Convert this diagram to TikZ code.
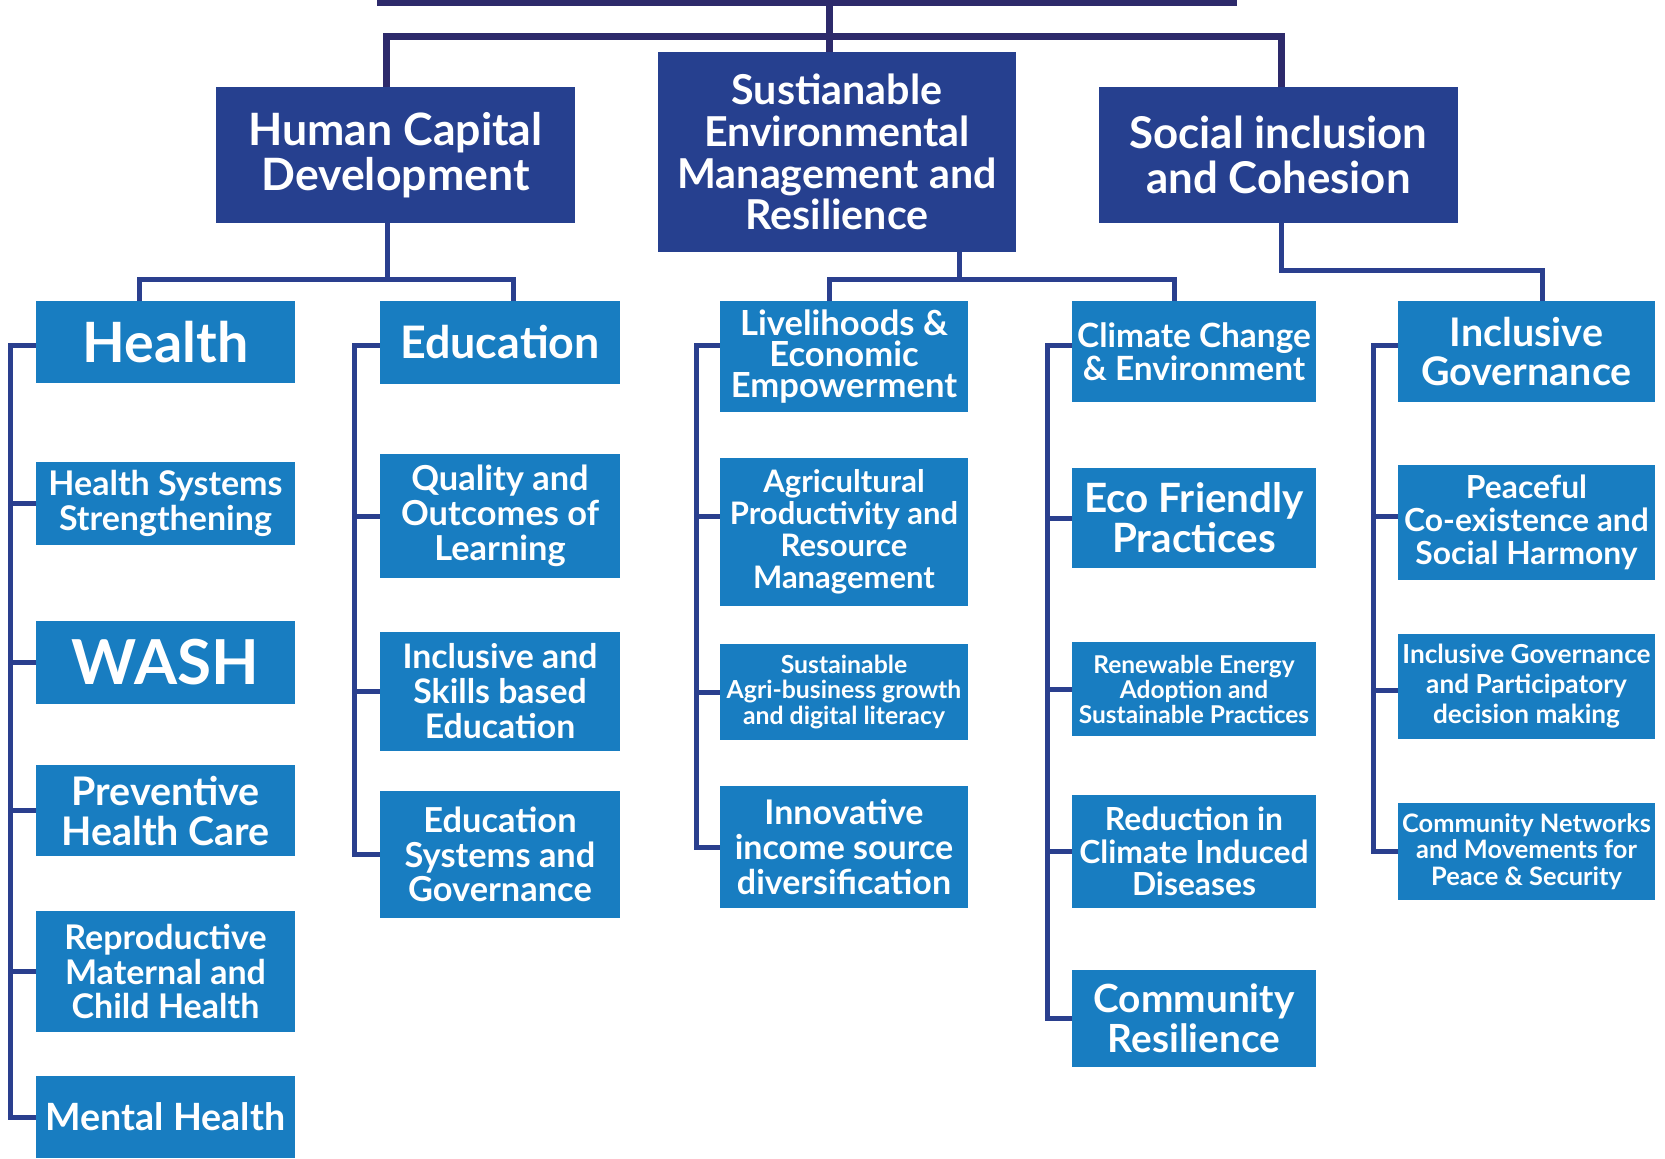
\documentclass[tikz,border=0pt]{standalone}
\usepackage{fontspec}
\setmainfont{Lato}
\definecolor{mainblue}{RGB}{38,64,143}
\definecolor{subblue}{RGB}{24,125,193}
\definecolor{busnavy}{RGB}{45,42,107}
\definecolor{linkblue}{RGB}{42,63,142}
\tikzset{
  mainbox/.style={fill=mainblue, text=white, align=center, inner sep=0pt},
  subbox/.style={fill=subblue, text=white, align=center, inner sep=0pt},
  fsz/.style 2 args={font=\bfseries\fontsize{#1pt}{#2pt}\selectfont},
  bus/.style={draw=busnavy, line width=3.5pt},
  link/.style={draw=linkblue, line width=2.5pt}
}
\begin{document}
\begin{tikzpicture}[x=0.5pt,y=-0.5pt]
\useasboundingbox (0,0) rectangle (1665,1158);

% top bar
\fill[busnavy] (377,0) rectangle (1237,6);
\coordinate (bar) at (829,3);

% pillars
\node[mainbox, fsz={22.3}{22.5}, minimum width=179.5pt, minimum height=68pt] (hcd) at (395.5,155) {Human Capital\\Development};
\node[mainbox, fsz={20.6}{20.9}, minimum width=179pt, minimum height=100pt] (semr) at (837,152) {Sustianable\\Environmental\\Management and\\Resilience};
\node[mainbox, fsz={21.9}{22.3}, minimum width=179.5pt, minimum height=68pt] (sic) at (1278.5,155) {Social inclusion\\and Cohesion};

% health column
\node[subbox, fsz={27.8}{30}, minimum width=129.5pt, minimum height=41pt] (health) at (165.5,342) {Health};
\node[subbox, fsz={17}{17.5}, minimum width=129.5pt, minimum height=41.5pt] (hss) at (165.5,503.5) {Health Systems\\Strengthening};
\node[subbox, fsz={31}{33}, minimum width=129.5pt, minimum height=41.5pt] (wash) at (165.5,662.5) {WASH};
\node[subbox, fsz={19.7}{20}, minimum width=129.5pt, minimum height=45.5pt] (phc) at (165.5,810.5) {Preventive\\Health Care};
\node[subbox, fsz={17}{17.3}, minimum width=129.5pt, minimum height=60.5pt] (rmch) at (165.5,971.5) {Reproductive\\Maternal and\\Child Health};
\node[subbox, fsz={18.8}{20}, minimum width=129.5pt, minimum height=41pt] (mh) at (165.5,1117) {Mental Health};

% education column
\node[subbox, fsz={22.4}{23}, minimum width=120pt, minimum height=41.5pt] (edu) at (500,342.5) {Education};
\node[subbox, fsz={17.2}{17.5}, minimum width=120pt, minimum height=62pt] (qol) at (500,516) {Quality and\\Outcomes of\\Learning};
\node[subbox, fsz={16.9}{17.5}, minimum width=120pt, minimum height=59.5pt] (isbe) at (500,691.5) {Inclusive and\\Skills based\\Education};
\node[subbox, fsz={17.2}{17.3}, minimum width=120pt, minimum height=63.5pt] (esg) at (500,854.5) {Education\\Systems and\\Governance};

% livelihoods column
\node[subbox, fsz={17.3}{15.6}, minimum width=124pt, minimum height=55.5pt] (lee) at (844,356.5) {Livelihoods \&\\Economic\\Empowerment};
\node[subbox, fsz={15.5}{16}, minimum width=124pt, minimum height=74pt] (alprm) at (844,532) {Agricultural\\Productivity and\\Resource\\Management};
\node[subbox, fsz={12.4}{12.8}, minimum width=124pt, minimum height=48pt] (sab) at (844,692) {Sustainable\\Agri-business growth\\and digital literacy};
\node[subbox, fsz={17}{17.3}, minimum width=124pt, minimum height=61pt] (iisd) at (844,847) {Innovative\\income source\\diversification};

% climate column
\node[subbox, fsz={16.7}{16.5}, minimum width=122pt, minimum height=50.5pt] (cce) at (1194,351.5) {Climate Change\\\& Environment};
\node[subbox, fsz={20.2}{20}, minimum width=122pt, minimum height=50pt] (efp) at (1194,518) {Eco Friendly\\Practices};
\node[subbox, fsz={12.25}{12.5}, minimum width=122pt, minimum height=47pt] (rea) at (1194,689) {Renewable Energy\\Adoption and\\Sustainable Practices};
\node[subbox, fsz={15.9}{16.2}, minimum width=122pt, minimum height=56.5pt] (rcid) at (1194,851.5) {Reduction in\\Climate Induced\\Diseases};
\node[subbox, fsz={19.4}{20}, minimum width=122pt, minimum height=48.5pt] (cr) at (1194,1018.5) {Community\\Resilience};

% governance column
\node[subbox, fsz={19.7}{19.5}, minimum width=128.5pt, minimum height=50.5pt] (ig) at (1526.5,351.5) {Inclusive\\Governance};
\node[subbox, fsz={15.9}{16.5}, minimum width=128.5pt, minimum height=57.5pt] (pcsh) at (1526.5,522.5) {Peaceful\\Co-existence and\\Social Harmony};
\node[subbox, fsz={13.1}{15}, minimum width=128.5pt, minimum height=52.5pt] (igpd) at (1526.5,686.5) {Inclusive Governance\\and Participatory\\decision making};
\node[subbox, fsz={12.7}{13.3}, minimum width=128.5pt, minimum height=48.5pt] (cnmps) at (1526.5,851.5) {Community Networks\\and Movements for\\Peace \& Security};

% top connectors
\coordinate (tbus) at (829,36.5);
\draw[bus] (bar) -- (bar |- semr.north);
\draw[bus] ([xshift=-4.75pt]hcd.north) |- (tbus) -| ([xshift=1.25pt]sic.north);

% pillar connectors
\coordinate (hbus) at (387,279);
\draw[link] (hbus) -- (hbus |- hcd.south);
\draw[link] ([xshift=-13pt]health.north) |- (hbus) -| ([xshift=6.5pt]edu.north);
\coordinate (sbus) at (959,279);
\draw[link] (sbus) -- (sbus |- semr.south);
\draw[link] ([xshift=-7.25pt]lee.north) |- (sbus) -| ([xshift=-10pt]cce.north);
\coordinate (ibus) at (1281,270.5);
\draw[link] (ibus |- sic.south) -- (ibus) -| ([xshift=7.75pt]ig.north);

% spines
\draw[link] ([yshift=-1.5pt]health.west) -- ++(-25,0) |- (mh.west);
\foreach \n in {hss,wash,phc,rmch}
  \draw[link] (\n.west) -- ++(-25,0);
\draw[link] ([yshift=-1.25pt]edu.west) -- ++(-25,0) |- (esg.west);
\foreach \n in {qol,isbe}
  \draw[link] (\n.west) -- ++(-25,0);
\draw[link] ([yshift=5.75pt]lee.west) -- ++(-23.5,0) |- (iisd.west);
\foreach \n/\s in {alprm/7.75,sab/0}
  \draw[link] ([yshift=\s pt]\n.west) -- ++(-23.5,0);
\draw[link] ([yshift=3.25pt]cce.west) -- ++(-24,0) |- (cr.west);
\foreach \n in {efp,rea,rcid}
  \draw[link] (\n.west) -- ++(-24,0);
\draw[link] ([yshift=3.25pt]ig.west) -- ++(-24.5,0) |- (cnmps.west);
\foreach \n/\s in {pcsh/3,igpd/-2}
  \draw[link] ([yshift=\s pt]\n.west) -- ++(-24.5,0);
\end{tikzpicture}
\end{document}
